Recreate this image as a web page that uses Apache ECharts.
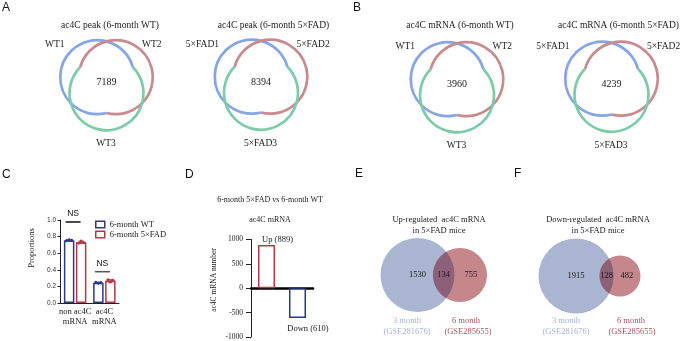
<!DOCTYPE html>
<html>
<head>
<meta charset="utf-8">
<script src="https://cdn.jsdelivr.net/npm/echarts@6/dist/echarts.min.js"></script>
<style>
  html, body { margin: 0; padding: 0; background: #fff; }
  #chart { width: 685px; height: 341px; }
</style>
</head>
<body>
<div id="chart"></div>
<script>
// ---- data ----
const vennTitles = ['ac4C peak (6-month WT)', 'ac4C peak (6-month 5×FAD)', 'ac4C mRNA (6-month WT)', 'ac4C mRNA (6-month 5×FAD)']
const vennSets = [['WT1', 'WT2', 'WT3'], ['5×FAD1', '5×FAD2', '5×FAD3'], ['WT1', 'WT2', 'WT3'], ['5×FAD1', '5×FAD2', '5×FAD3']]
const vennShared = [7189, 8394, 3960, 4239]

const propCategories = ['non ac4C\nmRNA', 'ac4C\nmRNA']
const propGroups = ['6-month WT', '6-month 5×FAD']
const propWT = [[0.752, 0.760, 0.754], [0.248, 0.240, 0.246]]
const propFAD = [[0.722, 0.746, 0.727], [0.278, 0.254, 0.273]]
const propTests = ['NS', 'NS']
const propTestY = [0.976, 0.377]

const diffTitles = ['6-month 5×FAD vs 6-month WT', 'ac4C mRNA']
const diffCategories = ['Up', 'Down']
const diffValues = [889, -610]

const overlapTitles = [['Up-regulated  ac4C mRNA', 'in 5×FAD mice'], ['Down-regulated  ac4C mRNA', 'in 5×FAD mice']]
const overlapUp = [1530, 134, 755]   // 3-month only, both, 6-month only
const overlapDown = [1915, 128, 482]
const overlapSets = [['3 month', '(GSE281676)'], ['6 month', '(GSE285655)']]

// ---- layout / style ----
const SERIF = 'Liberation Serif'
const SANS = 'Liberation Sans'
const WT_C = '#2D3B84'
const FAD_C = '#B33A45'
const vennColors = ['#86A5E6', '#C98A8E', '#7DCBA8']
const vennCenters = [[106.5, 82.5], [261, 82], [457, 84.5], [611.5, 84]]
const vennTitlePos = [[110, 25], [273.5, 25], [460, 25], [618.5, 25]]
const circleLayout = [{ dx: -9.25, dy: -5.3, r: 37 }, { dx: 9.25, dy: -5.3, r: 37 }, { dx: 0, dy: 10.7, r: 37 }]
const setLabelPos = [[-42, -38, 'right'], [35.5, -38, 'left'], [-0.5, 61, 'center']]
const overlapCenters = [[438.75, 275], [598, 276]]
const overlapDist = [42.5, 44]
const overlapBigR = [37, 37.5]
const overlapFills = ['#A9B5D1', '#C6878B', '#8C6079']

const squareGrid = (c) => ({ left: c[0] - 50, top: c[1] - 50, width: 100, height: 100 })
const mean = (a) => a.reduce((s, v) => s + v, 0) / a.length
const sd = (a) => { const m = mean(a); return Math.sqrt(a.reduce((s, v) => s + (v - m) * (v - m), 0) / (a.length - 1)) }

function txt(text, x, y, size, opts) {
  opts = opts || {}
  const align = opts.align || 'center'
  return {
    type: 'text', x: x, y: y, rotation: opts.rotation || 0, silent: true,
    style: {
      text: text, fill: opts.color || '#222', fontSize: size, fontFamily: opts.family || SERIF,
      textAlign: align, align: align, textVerticalAlign: 'middle', verticalAlign: 'middle'
    }
  }
}

// arcs of circle i that are not inside both other circles
function arcsFor(circles, i) {
  const c = circles[i]
  const TAU = Math.PI * 2
  let angs = []
  circles.forEach((o, j) => {
    if (j === i) return
    const dx = o.x - c.x, dy = o.y - c.y, d = Math.hypot(dx, dy)
    if (d >= c.r + o.r || d <= Math.abs(c.r - o.r)) return
    const a = (d * d + c.r * c.r - o.r * o.r) / (2 * d)
    const base = Math.atan2(dy, dx), off = Math.acos(a / c.r)
    angs.push(base - off, base + off)
  })
  angs = angs.map(a => ((a % TAU) + TAU) % TAU).sort((a, b) => a - b)
  const out = []
  angs.forEach((s, k) => {
    const e = k + 1 < angs.length ? angs[k + 1] : angs[0] + TAU
    const m = (s + e) / 2
    const px = c.x + c.r * Math.cos(m), py = c.y + c.r * Math.sin(m)
    const inside = circles.filter((o, j) => j !== i && Math.hypot(px - o.x, py - o.y) < o.r).length
    if (inside < 2) out.push([s, e])
  })
  return out
}

function renderVenn(vi) {
  return function (params, api) {
    const circles = circleLayout.map(c => {
      const p = api.coord([c.dx, c.dy])
      return { x: p[0], y: p[1], r: api.size([c.r, 0])[0] }
    })
    const i = params.dataIndex
    if (i < 3) {
      const c = circles[i]
      return {
        type: 'group',
        children: arcsFor(circles, i).map(([s, e]) => ({
          type: 'arc',
          shape: { cx: c.x, cy: c.y, r: c.r, startAngle: s, endAngle: e, clockwise: true },
          style: { stroke: vennColors[i], fill: null, lineWidth: 2.7 }
        }))
      }
    }
    const center = api.coord([api.value(0), api.value(1)])
    const children = [txt(String(api.value(2)), center[0], center[1], 10)]
    vennSets[vi].forEach((name, k) => {
      const p = api.coord(setLabelPos[k])
      children.push(txt(name, p[0], p[1], 9.5, { align: setLabelPos[k][2] }))
    })
    return { type: 'group', children: children }
  }
}

// lens shared by two circles, as an svg path
function lensPath(A, B) {
  const dx = B.x - A.x, dy = B.y - A.y, d = Math.hypot(dx, dy)
  const th = Math.atan2(dy, dx)
  const aA = (d * d + A.r * A.r - B.r * B.r) / (2 * d)
  const aB = d - aA
  const al = Math.acos(aA / A.r)
  const p1 = [A.x + A.r * Math.cos(th - al), A.y + A.r * Math.sin(th - al)]
  const p2 = [A.x + A.r * Math.cos(th + al), A.y + A.r * Math.sin(th + al)]
  return 'M' + p1[0] + ',' + p1[1] +
    ' A' + A.r + ',' + A.r + ' 0 ' + (aA < 0 ? 1 : 0) + ' 1 ' + p2[0] + ',' + p2[1] +
    ' A' + B.r + ',' + B.r + ' 0 ' + (aB < 0 ? 1 : 0) + ' 1 ' + p1[0] + ',' + p1[1] + ' Z'
}

function renderOverlap(oi, counts) {
  const sizes = [counts[0] + counts[1], counts[2] + counts[1]]
  const big = Math.max(sizes[0], sizes[1])
  return function (params, api) {
    const i = params.dataIndex
    const cs = sizes.map((s, k) => {
      const p = api.coord([(k === 0 ? -1 : 1) * overlapDist[oi] / 2, 0])
      return { x: p[0], y: p[1], r: api.size([overlapBigR[oi] * Math.sqrt(s / big), 0])[0] }
    })
    const c = cs[i]
    const children = [{ type: 'circle', shape: { cx: c.x, cy: c.y, r: c.r }, style: { fill: overlapFills[i] } }]
    if (i === 1) {
      const b = cs[0]
      children.push({ type: 'path', shape: { pathData: lensPath(b, c) }, style: { fill: overlapFills[2] } })
      children.push(txt(String(counts[0]), b.x, b.y, 8.5, { color: '#1a1a1a' }))
      children.push(txt(String(counts[1]), (c.x - c.r + b.x + b.r) / 2, c.y, 8.5, { color: '#1a1a1a' }))
      children.push(txt(String(counts[2]), (b.x + b.r + c.x + c.r) / 2, c.y, 8.5, { color: '#1a1a1a' }))
    }
    return { type: 'group', children: children }
  }
}

function renderReplicates(offset, color) {
  return function (params, api) {
    const m = api.coord([api.value(0), api.value(1)])
    const s = api.size([0, api.value(2)])[1]
    const x = m[0] + offset
    const children = [
      { type: 'line', shape: { x1: x, y1: m[1] - s, x2: x, y2: m[1] + s }, style: { stroke: color, lineWidth: 1 } },
      { type: 'line', shape: { x1: x - 2.5, y1: m[1] - s, x2: x + 2.5, y2: m[1] - s }, style: { stroke: color, lineWidth: 1 } },
      { type: 'line', shape: { x1: x - 2.5, y1: m[1] + s, x2: x + 2.5, y2: m[1] + s }, style: { stroke: color, lineWidth: 1 } }
    ]
    ;[-2.5, 0, 2.5].forEach((jx, k) => {
      const p = api.coord([api.value(0), api.value(3 + k)])
      children.push({ type: 'circle', shape: { cx: x + jx, cy: p[1], r: 1.6 }, style: { fill: color } })
    })
    return { type: 'group', children: children }
  }
}

const hiddenAxis = (gi, inverse) => ({ gridIndex: gi, type: 'value', min: -50, max: 50, show: false, inverse: !!inverse })

const grids = vennCenters.map(squareGrid).concat([
  { left: 60.5, top: 220, width: 58.5, height: 83 },
  { left: 251, top: 239.5, width: 62, height: 97.5 },
  squareGrid(overlapCenters[0]),
  squareGrid(overlapCenters[1])
])

const xAxes = [0, 1, 2, 3].map(i => hiddenAxis(i)).concat([
  {
    gridIndex: 4, type: 'category', data: propCategories,
    axisLine: { lineStyle: { color: '#222', width: 1 } }, axisTick: { show: false },
    axisLabel: { interval: 0, fontSize: 8.5, fontFamily: SERIF, color: '#222', margin: 4, lineHeight: 10 }
  },
  {
    gridIndex: 5, type: 'category', data: diffCategories,
    axisLine: { onZero: true, lineStyle: { color: '#000', width: 2.6 } },
    axisTick: { show: false }, axisLabel: { show: false }
  },
  hiddenAxis(6), hiddenAxis(7)
])

const yAxes = [0, 1, 2, 3].map(i => hiddenAxis(i, true)).concat([
  {
    gridIndex: 4, type: 'value', min: 0, max: 1, interval: 0.2,
    axisLine: { show: true, lineStyle: { color: '#222', width: 1 } },
    axisTick: { show: true, length: 3, lineStyle: { color: '#222' } },
    axisLabel: { fontSize: 6.5, fontFamily: SANS, color: '#333', margin: 4.5, formatter: v => v.toFixed(1) },
    splitLine: { show: false }
  },
  {
    gridIndex: 5, type: 'value', min: -1000, max: 1000, interval: 500,
    axisLine: { show: true, lineStyle: { color: '#222', width: 1 } },
    axisTick: { show: true, length: 5, lineStyle: { color: '#222' } },
    axisLabel: { fontSize: 7.5, fontFamily: SERIF, color: '#222', margin: 8, formatter: v => String(v) },
    splitLine: { show: false }
  },
  hiddenAxis(6, true), hiddenAxis(7, true)
])

const series = []
vennShared.forEach((n, vi) => {
  series.push({
    type: 'custom', xAxisIndex: vi, yAxisIndex: vi, silent: true,
    renderItem: renderVenn(vi),
    data: circleLayout.map(c => [c.dx, c.dy, c.r]).concat([[0, 0, n]])
  })
})

const barW = 10.5, barGapPx = 1.5
series.push({
  type: 'bar', name: propGroups[0], xAxisIndex: 4, yAxisIndex: 4, silent: true,
  data: propWT.map(mean), barWidth: barW,
  itemStyle: { color: '#fff', borderColor: WT_C, borderWidth: 1.5 }
})
series.push({
  type: 'bar', name: propGroups[1], xAxisIndex: 4, yAxisIndex: 4, silent: true,
  data: propFAD.map(mean), barWidth: barW, barGap: (barGapPx / barW * 100) + '%',
  itemStyle: { color: '#fff', borderColor: FAD_C, borderWidth: 1.5 }
})
;[[propWT, -(barW + barGapPx) / 2, WT_C], [propFAD, (barW + barGapPx) / 2, FAD_C]].forEach(([reps, off, col]) => {
  series.push({
    type: 'custom', xAxisIndex: 4, yAxisIndex: 4, silent: true, z: 5,
    renderItem: renderReplicates(off, col),
    data: reps.map((r, k) => [k, mean(r), sd(r)].concat(r))
  })
})
series.push({
  type: 'custom', xAxisIndex: 4, yAxisIndex: 4, silent: true,
  renderItem: (params, api) => {
    const p = api.coord([api.value(0), api.value(1)])
    const x = p[0] - 2
    const col = params.dataIndex === 0 ? '#111' : '#555'
    return {
      type: 'group', children: [
        { type: 'line', shape: { x1: x - 7.5, y1: p[1], x2: x + 7.5, y2: p[1] }, style: { stroke: col, lineWidth: 1.5 } },
        txt(propTests[params.dataIndex], x, p[1] - 8.5, 8.5, { family: SANS, color: '#111' })
      ]
    }
  },
  data: propTestY.map((y, k) => [k, y])
})

series.push({
  type: 'bar', xAxisIndex: 5, yAxisIndex: 5, silent: true, barWidth: 17,
  itemStyle: { color: '#fff', borderWidth: 1.5 },
  label: {
    show: true, fontSize: 8.5, fontFamily: SERIF, color: '#222',
    formatter: p => p.name + ' (' + Math.abs(p.value) + ')'
  },
  data: diffValues.map((v, k) => ({
    value: v,
    itemStyle: { borderColor: v > 0 ? FAD_C : WT_C },
    label: v > 0 ? { position: 'top', distance: 1, offset: [11, 0] } : { position: 'bottom', distance: 6, offset: [10.5, 0] }
  }))
})

;[overlapUp, overlapDown].forEach((counts, oi) => {
  series.push({
    type: 'custom', xAxisIndex: 6 + oi, yAxisIndex: 6 + oi, silent: true,
    renderItem: renderOverlap(oi, counts),
    data: [[counts[0] + counts[1]], [counts[2] + counts[1]]]
  })
})

const letter = (t, x, y) => txt(t, x, y, 12, { family: SANS, align: 'left', color: '#111' })
const graphic = [
  letter('A', 2, 7.5), letter('B', 353, 7.5), letter('C', 2, 175),
  letter('D', 185, 175), letter('E', 355, 174), letter('F', 514, 174),
  txt(diffTitles[0], 270, 200, 8),
  txt(diffTitles[1], 270, 220, 8),
  txt('Proportions', 32, 248, 8.5, { rotation: Math.PI / 2 }),
  txt('ac4C mRNA number', 214, 280, 7.5, { rotation: Math.PI / 2 })
]
vennTitles.forEach((t, i) => graphic.push(txt(t, vennTitlePos[i][0], vennTitlePos[i][1], 9.5)))
const overlapTitleX = [439, 598]
const overlapSetX = [[[407, 407], [466, 468]], [[566, 566], [631, 632]]]
const overlapSetColors = ['#A7B2D8', '#A3545E']
overlapTitles.forEach((lines, oi) => {
  graphic.push(txt(lines[0], overlapTitleX[oi], 220, 8.5))
  graphic.push(txt(lines[1], overlapTitleX[oi], 231, 8.5))
  overlapSets.forEach((lab, k) => {
    graphic.push(txt(lab[0], overlapSetX[oi][k][0], 321, 8.5, { color: overlapSetColors[k] }))
    graphic.push(txt(lab[1], overlapSetX[oi][k][1], 332, 8.5, { color: overlapSetColors[k] }))
  })
})

const chart = echarts.init(document.getElementById('chart'), null, { renderer: 'canvas' })
chart.setOption({
  animation: false,
  backgroundColor: '#fff',
  grid: grids,
  xAxis: xAxes,
  yAxis: yAxes,
  legend: {
    data: propGroups, left: 90, top: 215, orient: 'vertical',
    itemWidth: 9, itemHeight: 6.5, itemGap: 1, icon: 'rect',
    itemStyle: { color: '#fff', borderWidth: 1.5 },
    textStyle: { fontSize: 8.5, fontFamily: SERIF, color: '#222', lineHeight: 9 },
    selectedMode: false
  },
  graphic: graphic,
  series: series
})
</script>
</body>
</html>
